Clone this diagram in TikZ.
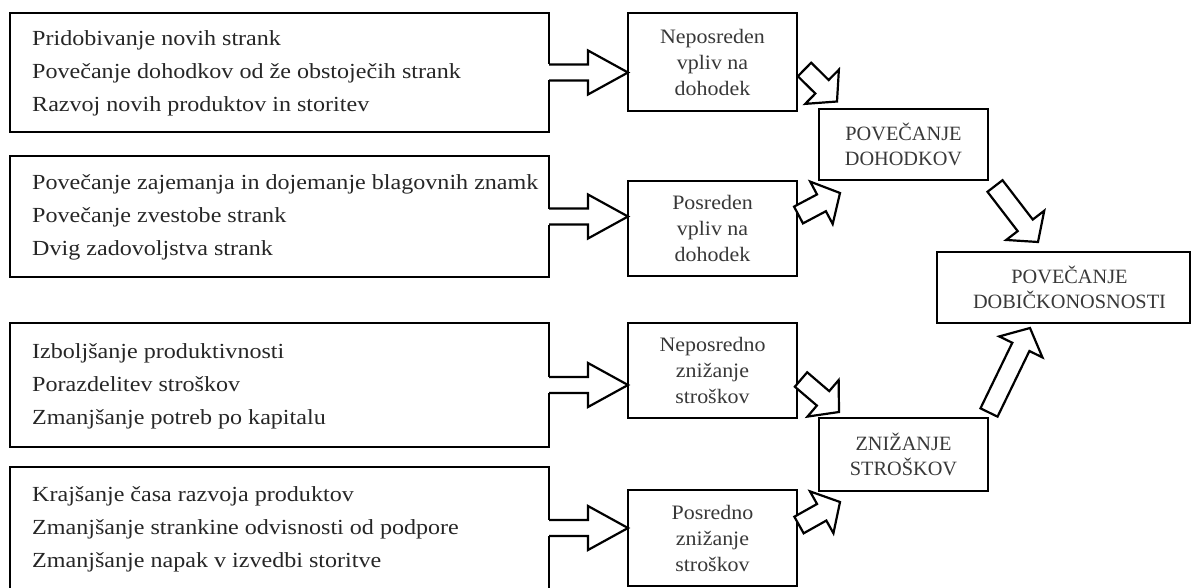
\documentclass[tikz,border=0pt]{standalone}
\usepackage{fontspec}
\setmainfont{Liberation Serif}
\newfontfamily\listfont[FakeStretch=1.12]{Liberation Serif}
\newfontfamily\stagefont[FakeStretch=1.07]{Liberation Serif}
\usetikzlibrary{calc}

\tikzset{
  x=1pt, y=-1pt,
  listbox/.style={draw, line width=2.8pt, outer sep=0pt, inner sep=0pt,
    anchor=north west, minimum width=539pt},
  listtext/.style={anchor=west, align=left, inner sep=0pt, text=black!85,
    font=\listfont\fontsize{21.5}{33}\selectfont},
  stagebox/.style={draw, line width=2.4pt, outer sep=0pt, inner sep=0pt,
    anchor=north west, minimum width=169pt, align=center, text=black!78,
    font=\stagefont\fontsize{20.5}{26}\selectfont},
  goalbox/.style={draw, line width=2.4pt, outer sep=0pt, inner sep=0pt,
    anchor=north west, align=center, text=black!78,
    font=\fontsize{20.3}{24.5}\selectfont},
  goaltext/.style={align=center, inner sep=0pt, text=black!78,
    font=\fontsize{20.3}{24.5}\selectfont},
  arrowline/.style={draw=black, fill=white, line width=2.2pt, line join=miter},
}

% wide hollow arrow leaving a list box through its right side
\newcommand{\sidearrow}[2]{%
  \coordinate (#1-tip) at (#1.east -| #2.west);
  \fill[white] ($(#1.east)+(-2,-8)$) rectangle ($(#1.east)+(1.5,8)$);
  \draw[arrowline, fill=none] ($(#1.east)+(0,-8)$) -- ++(39,0) -- ++(0,-14)
    -- (#1-tip) -- ($(#1.east)+(39,22)$) -- ++(0,-14) -- ($(#1.east)+(0,8)$);
}

% hollow block arrow from a tail point to a tip point
\newcommand{\blockarrow}[2]{%
  \coordinate (#1-base) at ($(#2)!21pt!(#1)$);
  \filldraw[arrowline] ($(#1)!9.5pt!90:(#2)$) -- ($(#1-base)!9.5pt!90:(#2)$)
    -- ($(#1-base)!24pt!90:(#2)$) -- (#2) -- ($(#1-base)!24pt!-90:(#2)$)
    -- ($(#1-base)!9.5pt!-90:(#2)$) -- ($(#1)!9.5pt!-90:(#2)$) -- cycle;
}

\begin{document}
\begin{tikzpicture}
\useasboundingbox (0,0) rectangle (1193,588);

% list boxes
\node[listbox, minimum height=119pt] (l1) at (10,13) {};
\node[listbox, minimum height=121pt] (l2) at (10,156) {};
\node[listbox, minimum height=124pt] (l3) at (10,323) {};
\node[listbox, minimum height=122pt] (l4) at (10,467) {};

\node[listtext] (t1) at ($(l1.west)+(22,1)$) {Pridobivanje novih strank\\Povečanje dohodkov od že obstoječih strank\\Razvoj novih produktov in storitev};
\node[listtext] (t2) at ($(l2.west)+(22,1)$) {Povečanje zajemanja in dojemanje blagovnih znamk\\Povečanje zvestobe strank\\Dvig zadovoljstva strank};
\node[listtext] (t3) at ($(l3.west)+(22,1)$) {Izboljšanje produktivnosti\\Porazdelitev stroškov\\Zmanjšanje potreb po kapitalu};
\node[listtext] (t4) at ($(l4.west)+(22,1)$) {Krajšanje časa razvoja produktov\\Zmanjšanje strankine odvisnosti od podpore\\Zmanjšanje napak v izvedbi storitve};

% stage boxes
\node[stagebox, minimum height=98pt] (m1) at (628,13) {Neposreden\\vpliv na\\dohodek};
\node[stagebox, minimum height=95pt] (m2) at (628,181) {Posreden\\vpliv na\\dohodek};
\node[stagebox, minimum height=95pt] (m3) at (628,323) {Neposredno\\znižanje\\stroškov};
\node[stagebox, minimum height=96pt] (m4) at (628,490) {Posredno\\znižanje\\stroškov};

% goal boxes
\node[goalbox, minimum width=169pt, minimum height=71pt] (r1) at (819,109) {POVEČANJE\\DOHODKOV};
\node[goalbox, minimum width=169pt, minimum height=73pt] (r2) at (819,418) {ZNIŽANJE\\STROŠKOV};
\node[goalbox, minimum width=253pt, minimum height=71pt] (p) at (937,252) {};
\node[goaltext] (pt) at ($(p.center)+(6,0)$) {POVEČANJE\\DOBIČKONOSNOSTI};

% arrows from lists to stages
\sidearrow{l1}{m1}
\sidearrow{l2}{m2}
\sidearrow{l3}{m3}
\sidearrow{l4}{m4}

% arrows between stages and goals
\coordinate (a1) at (804.5,69.5);  \coordinate (a1e) at (837,101.5);
\coordinate (a2) at (798.5,215);   \coordinate (a2e) at (840,193);
\coordinate (a3) at (801,379.5);   \coordinate (a3e) at (839,412);
\coordinate (a4) at (799,525);     \coordinate (a4e) at (840,502);
\coordinate (a5) at (995,186);     \coordinate (a5e) at (1038,242);
\coordinate (a6) at (989,412.5);   \coordinate (a6e) at (1030,328);
\blockarrow{a1}{a1e}
\blockarrow{a2}{a2e}
\blockarrow{a3}{a3e}
\blockarrow{a4}{a4e}
\blockarrow{a5}{a5e}
\blockarrow{a6}{a6e}
\end{tikzpicture}
\end{document}
